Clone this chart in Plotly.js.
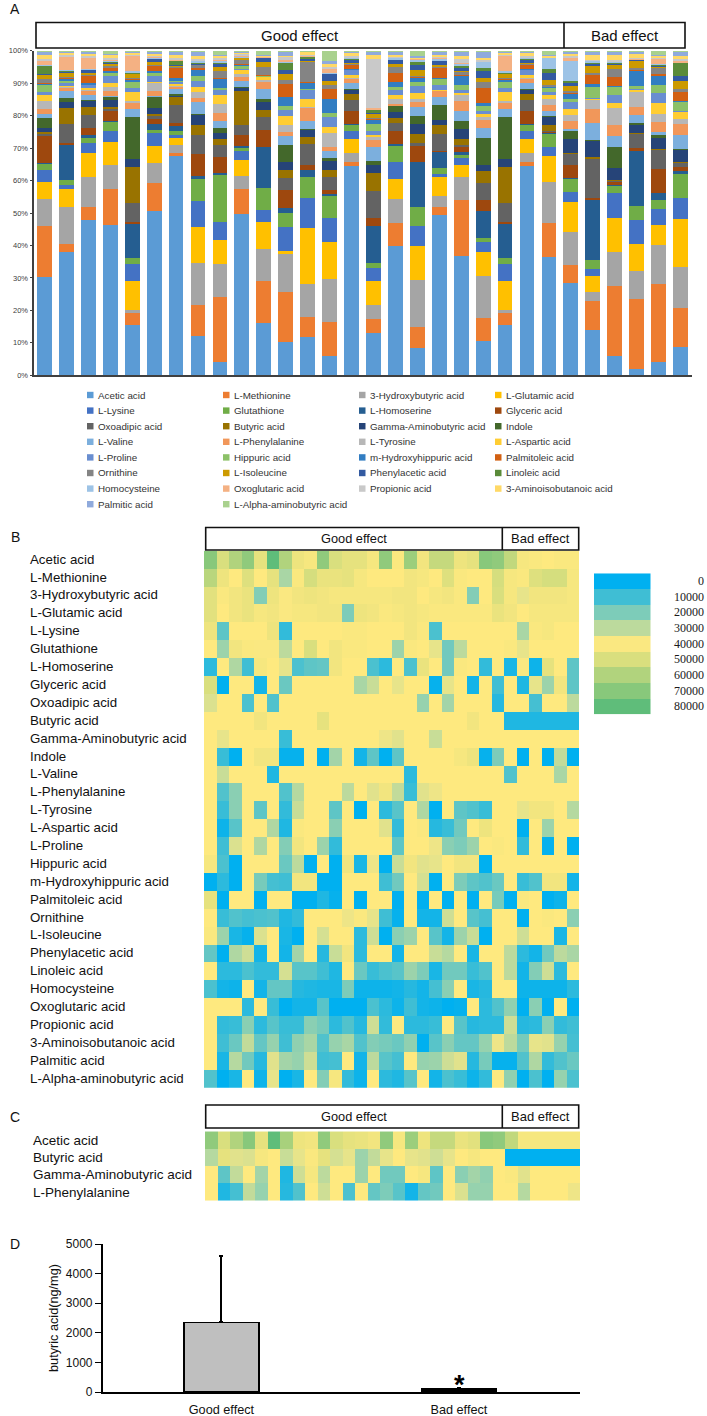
<!DOCTYPE html>
<html>
<head>
<meta charset="utf-8">
<script src="https://cdn.plot.ly/plotly-3.0.1.min.js"></script>
<style>html,body{margin:0;padding:0;background:#fff}</style>
</head>
<body>
<div id="chart"></div>
<script>
const compounds = ["Acetic acid","L-Methionine","3-Hydroxybutyric acid","L-Glutamic acid","L-Lysine","Glutathione","L-Homoserine","Glyceric acid","Oxoadipic acid","Butyric acid","Gamma-Aminobutyric acid","Indole","L-Valine","L-Phenylalanine","L-Tyrosine","L-Aspartic acid","L-Proline","Hippuric acid","m-Hydroxyhippuric acid","Palmitoleic acid","Ornithine","L-Isoleucine","Phenylacetic acid","Linoleic acid","Homocysteine","Oxoglutaric acid","Propionic acid","3-Aminoisobutanoic acid","Palmitic acid","L-Alpha-aminobutyric acid"];
const stackColors = ["#5B9BD5","#ED7D31","#A5A5A5","#FFC000","#4472C4","#70AD47","#255E91","#9E480E","#636363","#997300","#264478","#43682B","#7CAFDD","#F1975A","#B7B7B7","#FFCD33","#698ED0","#8CC168","#327DC2","#D26012","#848484","#CC9A00","#335AA1","#5A8B39","#9DC3E6","#F4B183","#C9C9C9","#FFD966","#8FAADC","#A9D18E"];

// Panel A: cumulative percentage read at the top of each compound, one list per sample
const sampleTops = [
[30.4,46,54.2,59.7,63.1,65.2,65.3,74,74.6,75,76.3,79.2,80.6,82,84.4,86.2,87.3,89.7,89.9,90,91.2,92.8,92.9,95.4,95.5,97,97.5,98.6,99.8,100],
[37.9,40.5,52,57.4,58.6,60.2,71.1,71.5,77.3,82.3,84.3,85.4,87.7,88.9,89.1,89.4,90,90.7,91.4,91.7,92,93.3,93.8,94,94.1,98.4,98.6,99.6,99.9,100],
[47.8,51.8,61.2,68.5,71.7,73.1,74,76.2,80.2,82.6,84.6,84.8,86.5,87.7,87.8,88.5,89.7,89.8,89.9,92.5,92.9,93.1,94.3,94.4,94.5,97.9,98.5,98.9,99.9,100],
[46.4,57.5,64.8,71.9,75.2,78.2,78.3,81.4,82.2,82.8,84.8,86,86.1,87.7,88.7,89.9,92.3,93.4,93.6,94.6,95.6,95.8,96.6,96.8,97.2,97.3,97.9,98.9,99,100],
[15.5,19.1,20.2,29.2,34.4,36.2,46.9,47.1,53.1,64.3,66.7,79.5,82.1,84.2,84.4,87.3,88.4,90.3,91.2,91.4,91.6,93,93.1,93.5,93.6,98.5,98.6,99.5,99.8,100],
[50.5,59.2,65.5,70.6,74.6,75.6,77.3,79,80.2,80.4,82.5,86,86.1,87.7,90.2,90.4,92.2,93.5,93.7,95.4,95.6,96.5,97.6,97.7,98,98.2,98.6,99.2,99.7,100],
[67.5,68.6,71,73.4,73.9,75.3,76.9,77.6,83.2,85.7,86.4,86.6,88.3,89.1,89.5,89.9,90.3,91,91.5,94.9,95.3,95.4,95.5,97.1,97.2,97.4,97.9,98.6,99.9,100],
[12.2,21.6,34.6,45.6,53.8,60.8,61.4,68.1,74,77.1,80.4,80.5,84.2,85.5,87.2,88.9,90.8,92.3,94.4,94.6,95.7,95.9,96.1,96.6,97.1,97.2,97.4,98.4,99.9,100],
[4.1,24.1,34.4,41.8,47.3,61.8,62.3,67.2,71,72.7,74.6,76.3,78.4,80.9,83.7,86.4,88.2,88.4,91.6,91.7,93.8,95,96.3,96.5,97.1,97.2,97.9,98.5,98.7,100],
[49.7,57.5,61.4,66.3,69.2,70.4,70.7,74,77.1,87.5,88.8,88.9,90.6,91.9,92.9,94.2,94.4,95.6,95.8,95.9,97.1,97.9,98,98.1,98.2,98.4,99.2,99.5,99.9,100],
[16,29.1,38.8,47.3,51,57.7,70.3,75.7,79.6,81.6,84.3,85.2,88.1,90.6,91,92,92.1,92.3,92.4,92.6,95.1,96.6,97.9,98,98.1,98.2,98.3,98.5,98.6,100],
[10.3,25.8,37.4,38.2,45.7,49.9,51.6,57,60.7,63.1,65.8,70.8,73.8,75,77.2,79.8,81.7,83,85.6,89.8,91,92.8,94.2,96.1,96.8,97.1,98.2,98.3,99.7,100],
[11.8,18.1,28.2,45.3,54.5,61.2,63.4,64.8,71.3,73.4,75.8,75.9,78.4,82.5,82.6,85.1,88.1,88.2,90.4,90.5,96.9,97.1,97.3,98.2,98.4,98.5,98.7,99.7,99.9,100],
[5.8,16.5,29.6,41,48.6,55.5,55.9,57.1,61,63.2,66,66.9,69.1,70.4,74.7,76.6,79.5,80.8,85,88.1,89.4,90.7,93,93.1,93.2,94.4,95.1,95.8,96.9,100],
[64.5,65.7,68.5,72.9,75.3,77.4,77.5,81.5,84.8,86.7,88,88.1,90,91.5,91.8,92.4,94.2,94.3,94.4,95.9,96.1,96.3,97.5,97.6,97.9,98.1,98.4,99.2,99.9,100],
[13.1,17.2,21.7,29.1,33,34.7,46.1,48.6,56.7,62.3,64.8,66,70.4,72.7,73.3,74,75.3,77.4,78.9,79.1,79.3,80.6,80.7,82,82.1,82.2,97.4,98.7,99.9,100],
[39.9,46.8,54.3,60.4,65.8,71,71.2,75.4,77.7,79.3,81.2,83.1,83.3,83.5,85,86.4,87.9,88.7,90.4,93.1,95.3,95.9,97.3,97.5,97.9,98.1,98.4,98.8,99.9,100],
[8.3,15,29.3,39.7,46.1,51.9,65.7,70.6,71.6,74.4,77.3,79.9,82.7,84.2,85.1,86.9,89,90.5,91.9,92,92.1,94.1,95.7,96.8,97.4,97.6,97.8,98.1,98.3,100],
[49.5,51.7,55.1,61.4,62,63.8,69.1,69.2,74.4,77.1,78.7,83.2,85.8,87.7,87.8,88,89.5,91.4,91.5,94.6,95.3,95.6,97,97.1,97.6,97.9,98.4,98.7,99.9,100],
[36.7,53.9,61.1,64.8,67,67.8,68.7,70.5,71,72.7,76,78.2,81.3,84.4,86.7,87.2,87.8,89.5,92.5,92.6,93.6,93.8,94.6,95.4,96.1,96.3,97.4,98.4,99.7,100],
[10.5,17.5,30.5,37.9,41.2,42.4,50.5,54.1,59.3,62.9,64.8,73.1,76.1,78.9,79.5,80.4,81.4,83,84,88.4,90.5,91.7,93.8,94.7,96.8,96.9,97.4,97.6,99.7,100],
[15.5,19.1,20.2,29.2,34.4,36.2,46.9,47.1,53.1,64.3,66.7,79.5,82.1,84.2,84.4,87.3,88.4,90.3,91.2,91.4,91.6,93,93.1,93.5,93.6,98.5,98.6,99.5,99.8,100],
[64.5,65.7,68.5,72.9,75.3,77.4,77.5,81.5,84.8,86.7,88,88.1,90,91.5,91.8,92.4,94.2,94.3,94.4,95.9,96.1,96.3,97.5,97.6,97.9,98.1,98.4,99.2,99.9,100],
[36.3,46.8,59.5,67.5,70.4,74.7,74.9,75.1,75.4,77.1,79.7,79.8,81.3,83.2,85.1,86.5,87.3,88.9,89,89.2,89.4,91,93,94.3,97.9,98,98.1,98.7,98.8,100],
[28.3,34,44.1,53.5,56.6,60.6,60.7,64.8,68.3,68.4,72.9,75.5,75.8,78.3,80.1,81.9,84.1,85.2,87,87.2,87.7,89.1,89.9,90.7,96.9,97.6,98.5,99.2,99.7,100],
[14.1,22.9,25.8,30.5,32.7,35.6,54.1,54.7,67,67.2,72.3,72.4,77.7,81.9,85.2,85.3,85.4,89.2,89.7,92.9,93.2,95.5,96.1,96.2,97,97.1,97.2,98.7,99.9,100],
[6,27.6,38.1,48.6,56.2,58.5,58.6,59.9,60,60.1,63.9,70.4,73.7,77.1,82.4,83.8,86.2,89.1,89.2,92,94.4,95.8,96,96.6,96.7,96.9,97,98.7,99.9,100],
[1.9,23.4,32,40.3,47.8,52.2,69.1,69.9,74.6,74.7,77.5,77.6,80.2,82.8,87.6,88.1,88.2,89.1,94.1,94.2,94.8,97.1,97.3,97.4,97.5,97.6,97.8,99.2,99.7,100],
[4.1,28.1,40,46.4,51.3,54.1,56.2,63.6,69.6,69.7,73.1,74,75,78,80.5,84,87,89.4,92.6,92.7,94.8,94.9,95.6,95.7,95.8,97.8,97.9,98.7,98.8,100],
[8.8,20.7,33.3,48.3,54.5,62.1,62.8,64.1,65.6,65.7,69.6,69.7,74,77.5,78.9,81.4,81.5,84.3,84.4,87.4,88.3,90.8,92.2,96.4,96.5,97.1,97.5,98.3,99.7,100]
];

// Panel B: heat values in thousands, one list per compound
const heatB = [
[70,50,60,68,47,80,60,45,43,68,50,47,47,43,68,42,65,44,55,55,45,47,70,68,56,43,42,41,42,42],
[58,45,41,49,41,47,27,42,51,46,46,47,43,41,41,41,44,43,41,49,42,41,41,51,43,42,49,51,51,43],
[48,42,44,46,21,45,40,44,45,44,43,43,43,43,43,44,44,41,43,44,42,21,41,50,43,37,44,44,44,43],
[48,41,44,46,43,44,40,43,43,44,44,20,45,44,42,43,44,43,42,42,42,42,42,46,44,41,43,43,43,43],
[45,15,41,41,41,45,8,41,41,41,41,42,42,41,41,41,44,42,12,41,41,41,41,41,41,27,42,43,41,41],
[41,25,44,42,40,40,30,41,50,41,44,42,42,41,41,25,42,41,37,18,30,41,41,41,42,37,41,41,41,41],
[7,41,28,10,43,41,37,12,15,16,44,41,41,12,7,41,12,46,41,18,42,41,8,41,4,40,2,47,41,15],
[50,0,41,41,3,41,17,41,41,41,41,41,27,32,41,37,41,41,1,37,41,3,41,10,41,5,37,25,44,15],
[35,41,41,12,41,13,41,41,41,41,41,41,41,41,41,41,41,24,41,26,41,41,41,6,41,41,11,41,41,30],
[41,41,41,41,44,41,41,41,41,47,41,41,41,41,41,41,41,41,41,41,41,44,41,41,5,5,5,5,5,5],
[41,37,41,41,41,41,9,41,41,41,41,41,41,41,38,36,41,41,32,41,41,41,41,41,41,41,41,41,41,41],
[41,9,0,41,44,44,1,1,41,0,26,41,3,15,0,15,41,41,41,41,43,45,1,20,41,0,41,0,31,0],
[41,32,41,41,41,5,41,41,41,41,41,41,41,41,41,41,7,41,41,41,41,41,41,41,13,41,41,41,27,41],
[41,13,22,41,41,41,13,29,41,41,41,30,41,36,44,31,9,36,38,41,41,41,41,41,41,41,41,41,41,41],
[41,9,22,41,15,41,8,32,41,41,15,41,0,41,7,14,41,28,0,41,15,13,9,41,41,37,44,44,41,29],
[41,2,14,41,41,28,5,42,41,41,22,41,41,41,36,8,41,42,6,9,18,41,45,41,41,0,41,25,41,41],
[41,10,35,41,28,41,21,44,41,25,8,41,41,41,41,15,41,41,38,22,20,25,41,42,41,8,41,1,41,0],
[43,12,0,41,41,41,17,30,0,41,0,44,4,38,0,32,44,36,37,41,44,44,0,41,41,41,41,41,41,41],
[0,7,0,41,19,11,10,44,44,0,0,41,41,41,10,18,41,34,0,41,20,15,13,17,41,9,13,44,44,3],
[47,0,41,41,0,41,41,0,0,5,1,41,0,41,41,0,41,0,41,0,41,0,41,19,0,42,41,0,2,41],
[41,9,13,11,12,13,5,8,41,41,41,38,42,37,10,1,41,3,3,33,41,14,11,41,41,0,41,42,41,22],
[42,25,4,1,35,41,4,0,41,34,41,41,7,33,0,22,25,41,14,3,25,32,0,41,41,33,41,41,4,41],
[16,0,28,33,3,41,3,26,41,6,32,44,7,41,41,3,41,41,32,29,41,4,41,41,30,7,3,18,30,27],
[41,7,7,12,8,8,34,14,14,10,5,41,17,9,12,14,25,20,4,18,18,9,13,41,30,3,21,33,7,41],
[12,3,2,41,3,16,16,6,5,4,4,20,2,2,2,3,6,3,11,22,41,4,6,41,41,2,2,2,2,7],
[41,41,41,7,41,9,0,3,3,14,0,0,0,12,7,2,10,3,2,0,1,41,7,13,23,0,22,0,41,0],
[41,8,9,22,7,14,9,9,22,19,7,13,6,33,8,41,7,7,9,41,14,6,7,7,33,6,7,22,8,10],
[41,10,17,31,16,24,10,23,27,13,24,27,13,21,19,17,23,0,14,22,16,16,24,38,30,19,37,36,24,11],
[41,4,29,18,6,36,26,24,33,10,11,41,3,30,14,11,41,24,25,33,36,6,19,1,1,13,28,8,13,17],
[13,0,4,41,2,37,0,4,41,21,43,8,2,41,7,5,14,41,3,12,9,2,8,41,23,0,12,0,24,12]
];

// Panel C: four compounds, values in thousands
const namesC = ["Acetic acid","Butyric acid","Gamma-Aminobutyric acid","L-Phenylalanine"];
const heatC = [
[68,50,60,70,47,80,62,45,44,68,50,47,46,44,68,43,65,45,55,55,46,48,70,68,56,43,43,43,43,43],
[29,47,36,35,43,41,32,37,42,47,34,37,25,31,37,41,37,36,33,37,41,43,41,41,0,0,0,0,0,0],
[41,15,31,41,26,41,5,33,43,30,41,41,25,41,18,18,41,43,15,41,22,26,23,41,42,36,41,41,41,41],
[41,5,11,31,24,41,6,13,41,33,41,12,41,16,20,14,3,16,18,41,35,24,24,41,41,29,41,41,41,38]
];

// Colour key levels and colour stops
const keyLevels = [0,10000,20000,30000,40000,50000,60000,70000,80000];
const heatScale = [[0,"#00B0F0"],[0.51,"#FFE97F"],[1,"#5FBD7A"]];

// Panel D
const groupsD = ["Good effect","Bad effect"];
const meansD = [2355,100];
const errorsD = [2240,30];

const W = 707, H = 1416;
const fx = p => p / W;
const fy = p => 1 - p / H;
const domX = (a, b) => [fx(a), fx(b)];
const domY = (top, bottom) => [fy(bottom), fy(top)];
const SANS = "Liberation Sans, Arial, sans-serif";
const sampleIds = sampleTops.map((_, i) => i + 1);

const traces = [];
compounds.forEach((name, s) => {
  traces.push({
    type: "bar", name, x: sampleIds,
    y: sampleTops.map(t => +(t[s] - (s ? t[s - 1] : 0)).toFixed(2)),
    marker: {color: stackColors[s], line: {width: 0}},
    xaxis: "x", yaxis: "y", showlegend: false, hoverinfo: "name+y"
  });
});
const heat = (z, y, xa, ya) => ({
  type: "heatmap", z, x: z[0].map((_, i) => i + 1), y, xaxis: xa, yaxis: ya,
  zmin: 0, zmax: 80000, colorscale: heatScale, showscale: false, xgap: 0, ygap: 0
});
const thousand = m => m.map(r => r.map(v => v * 1000));
traces.push(heat(thousand(heatB), compounds, "x2", "y2"));
traces.push(heat(thousand(heatC), namesC, "x3", "y3"));
traces.push(heat(keyLevels.map(v => [v, v]), keyLevels, "x4", "y4"));
traces.push({
  type: "bar", x: groupsD, y: meansD, xaxis: "x5", yaxis: "y5", width: 0.315, showlegend: false,
  marker: {color: ["#BFBFBF", "#000000"], line: {color: "#000000", width: 1.5}},
  error_y: {type: "data", symmetric: false, array: errorsD, arrayminus: [0, 0], color: "#000000", thickness: 2, width: 2}
});

const hidden = (dom, anchor, extra) => Object.assign({domain: dom, anchor, showgrid: false, zeroline: false, showticklabels: false, ticks: "", showline: false}, extra || {});

const ann = [];
const txt = (x, y, text, size, opts) => ann.push(Object.assign({
  xref: "paper", yref: "paper", x: fx(x), y: fy(y), text, showarrow: false,
  xanchor: "center", yanchor: "middle", font: {family: SANS, size, color: "#111111"}
}, opts || {}));

const shapes = [];
const headerBox = (l, mid, r, top, bottom, sizeGood, sizeBad) => {
  shapes.push({type: "rect", xref: "paper", yref: "paper", x0: fx(l), x1: fx(r), y0: fy(bottom), y1: fy(top), line: {color: "#111111", width: 1.6}, fillcolor: "#ffffff"});
  shapes.push({type: "line", xref: "paper", yref: "paper", x0: fx(mid), x1: fx(mid), y0: fy(bottom), y1: fy(top), line: {color: "#111111", width: 1.6}});
  txt((l + mid) / 2, (top + bottom) / 2, "Good effect", sizeGood);
  txt((mid + r) / 2, (top + bottom) / 2, "Bad effect", sizeBad);
};
headerBox(36, 564, 685, 22.5, 48, 15, 15);
headerBox(205.7, 502.3, 578.7, 527.5, 550, 12.8, 13);
headerBox(205.7, 502.3, 578.7, 1105, 1128, 12.8, 13);

[["A", 15, 9], ["B", 15, 537], ["C", 15, 1117], ["D", 15, 1244]].forEach(([t, x, y]) => txt(x, y, t, 14));

// Panel A compound key: four columns, filled row by row
const keyColX = [87, 223, 359, 495];
compounds.forEach((name, i) => {
  const col = i % 4, row = Math.floor(i / 4);
  const y = 395 + row * 15.6, x = keyColX[col];
  shapes.push({type: "rect", xref: "paper", yref: "paper", x0: fx(x), x1: fx(x + 6.5), y0: fy(y + 3.2), y1: fy(y - 3.2), fillcolor: stackColors[i], line: {width: 0}});
  txt(x + 9, y, name, 9.8, {xanchor: "left", font: {family: SANS, size: 9.8, color: "#333333"}});
});

compounds.forEach(n => ann.push({xref: "paper", yref: "y2", x: fx(27.5), y: n, yshift: 0.5, text: n, showarrow: false, xanchor: "left", yanchor: "middle", font: {family: SANS, size: 13.3, color: "#111111"}}));
namesC.forEach(n => ann.push({xref: "paper", yref: "y3", x: fx(31), y: n, text: n, showarrow: false, xanchor: "left", yanchor: "middle", font: {family: SANS, size: 13.5, color: "#111111"}}));
keyLevels.forEach(v => ann.push({xref: "paper", yref: "y4", x: fx(706), y: v, text: String(v), showarrow: false, xanchor: "right", yanchor: "middle", font: {family: "Liberation Serif, serif", size: 12, color: "#1a1a1a"}}));

txt(459, 1385, "<b>*</b>", 27, {font: {family: SANS, size: 27, color: "#000000"}, yanchor: "middle"});

const layout = {
  width: W, height: H, margin: {l: 0, r: 0, t: 0, b: 0, pad: 0}, autosize: false,
  paper_bgcolor: "#ffffff", plot_bgcolor: "rgba(0,0,0,0)", barmode: "stack", bargap: 0.325,
  font: {family: SANS},
  annotations: ann, shapes,
  xaxis: {domain: domX(33.5, 691.5), anchor: "y", range: [0.5, 30.5], showgrid: false, zeroline: false, showticklabels: false, ticks: "", showline: true, linecolor: "#404040", linewidth: 2},
  yaxis: {domain: domY(50.7, 375.3), anchor: "x", range: [0, 100], dtick: 10, ticksuffix: "%", showgrid: false, zeroline: false, showline: true, linecolor: "#404040", linewidth: 2, ticks: "outside", ticklen: 2, tickcolor: "#404040", tickfont: {family: SANS, size: 7.5, color: "#404040"}},
  xaxis2: hidden(domX(204, 579), "y2", {range: [0.5, 30.5]}),
  yaxis2: hidden(domY(550.7, 1088.6), "x2", {type: "category", autorange: "reversed"}),
  xaxis3: hidden(domX(205, 580), "y3", {range: [0.5, 30.5]}),
  yaxis3: hidden(domY(1130.7, 1201.7), "x3", {type: "category", autorange: "reversed"}),
  xaxis4: hidden(domX(594, 650.5), "y4", {range: [0.5, 2.5]}),
  yaxis4: hidden(domY(573.3, 714.3), "x4", {type: "linear", range: [85000, -5000]}),
  xaxis5: {domain: domX(102.7, 580), anchor: "y5", type: "category", range: [-0.5, 1.51], showgrid: false, zeroline: false, showline: true, linecolor: "#000000", linewidth: 1.5, ticks: "outside", ticklen: 5, tickcolor: "rgba(0,0,0,0)", tickfont: {family: SANS, size: 12.7, color: "#111111"}},
  yaxis5: {domain: domY(1244, 1392), anchor: "x5", range: [0, 5000], dtick: 1000, showgrid: false, zeroline: false, showline: true, linecolor: "#000000", linewidth: 1.5, ticks: "outside", ticklen: 6, tickwidth: 1.2, tickcolor: "#000000", tickfont: {family: SANS, size: 12, color: "#111111"},
    title: {text: "butyric acid(ng/mg)", font: {family: SANS, size: 12.7, color: "#111111"}, standoff: 4}}
};

Plotly.newPlot("chart", traces, layout, {displayModeBar: false, responsive: false});
</script>
</body>
</html>
